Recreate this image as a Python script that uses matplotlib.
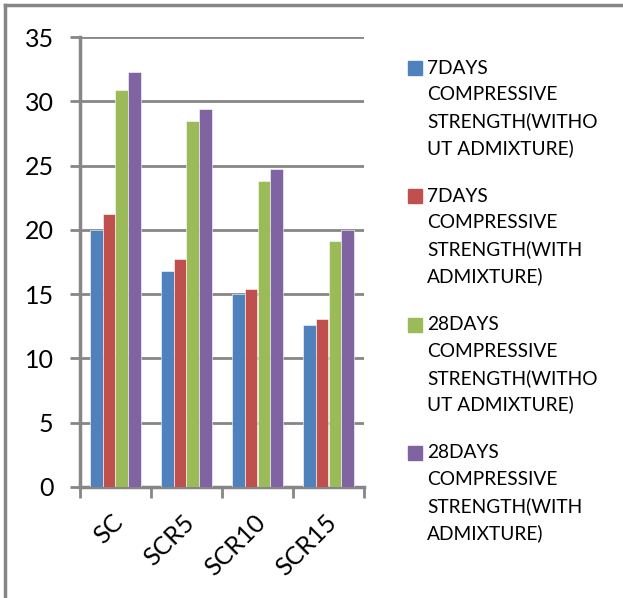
import matplotlib.pyplot as plt
from matplotlib.patches import Rectangle
from matplotlib.lines import Line2D
import numpy as np

plt.rcParams['font.family'] = ['Lato', 'DejaVu Sans']

# compressive strength by mix (N/mm2)
mixes = ['SC', 'SCR5', 'SCR10', 'SCR15']
days7_without = [20.0, 16.8, 15.0, 12.6]
days7_with = [21.2, 17.7, 15.4, 13.1]
days28_without = [30.9, 28.5, 23.8, 19.1]
days28_with = [32.3, 29.4, 24.7, 20.0]

series_labels = [
    '7DAYS\nCOMPRESSIVE\nSTRENGTH(WITHO\nUT ADMIXTURE)',
    '7DAYS\nCOMPRESSIVE\nSTRENGTH(WITH\nADMIXTURE)',
    '28DAYS\nCOMPRESSIVE\nSTRENGTH(WITHO\nUT ADMIXTURE)',
    '28DAYS\nCOMPRESSIVE\nSTRENGTH(WITH\nADMIXTURE)',
]
colors = ['#4F81BD', '#C0504D', '#9BBB59', '#8064A2']
series = [days7_without, days7_with, days28_without, days28_with]

grey = '#868686'

fig = plt.figure(figsize=(6.23, 5.98), dpi=100)
ax = fig.add_axes([80 / 623, 1 - 487 / 598, 284 / 623, 450 / 598])

x = np.arange(len(mixes))
w = 1 / 5.5
for i, (vals, c) in enumerate(zip(series, colors)):
    ax.bar(x + (i - 1.5) * w, vals, width=w, color=c, zorder=3,
           edgecolor='white', linewidth=0.4)

ax.set_xlim(-0.5, len(mixes) - 0.5)
ax.set_ylim(0, 35)
ax.set_yticks(range(0, 36, 5))
ax.yaxis.grid(True, color=grey, linewidth=2, zorder=0)
ax.set_axisbelow(True)

for s in ['top', 'right']:
    ax.spines[s].set_visible(False)
for s in ['left', 'bottom']:
    ax.spines[s].set_color(grey)
    ax.spines[s].set_linewidth(2.5)

# category boundaries get the tick marks, names sit between them
ax.set_xticks(np.arange(-0.5, len(mixes), 1), minor=False)
ax.set_xticklabels([])
ax.set_xticks(x - 0.06, minor=True)
ax.set_xticklabels(mixes, minor=True, rotation=45, ha='right',
                   rotation_mode='anchor', fontsize=18)
ax.tick_params(axis='x', which='major', length=8, width=2, color=grey)
ax.tick_params(axis='x', which='minor', length=0, pad=17)
ax.tick_params(axis='y', length=7, width=2, color=grey, labelsize=18, pad=12)

# hand-built legend: swatch next to first line of each label
y0 = 68
for i, (lab, c) in enumerate(zip(series_labels, colors)):
    ytop = y0 + i * 128.3
    fig.patches.append(Rectangle((408 / 623, 1 - (ytop + 7) / 598), 14 / 623, 14 / 598,
                                 transform=fig.transFigure, color=c))
    for j, line in enumerate(lab.split('\n')):
        fig.text(427 / 623, 1 - (ytop + j * 26.7) / 598, line, fontsize=13.8,
                 va='center', ha='left', color='#000000')

# outer frame (top and left edges)
fig.add_artist(Line2D([5 / 623, 1], [1 - 5 / 598] * 2, color=grey, linewidth=2.5))
fig.add_artist(Line2D([5 / 623] * 2, [0, 1 - 5 / 598], color=grey, linewidth=2.5))

fig.savefig('out.png', dpi=100, facecolor='white')
